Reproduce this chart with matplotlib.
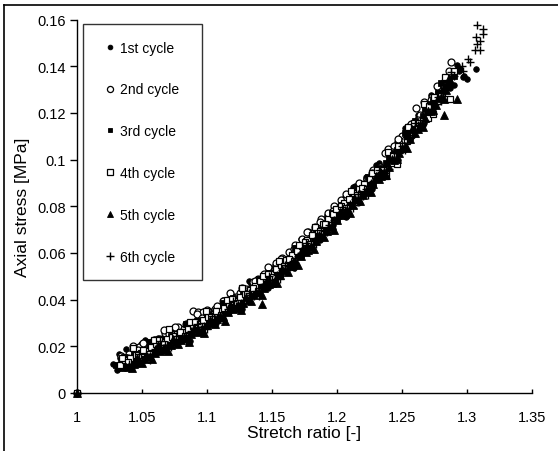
import matplotlib
matplotlib.use("Agg")
import matplotlib.pyplot as plt
from matplotlib.lines import Line2D

plt.rcParams['font.family'] = ['Liberation Sans', 'DejaVu Sans']

# ---------------- data: (stretch ratio, axial stress MPa) ----------------
cycle1 = [
    (1.0, 0.0), (1.028, 0.0125), (1.031, 0.0098), (1.033, 0.0150), (1.036, 0.0128), (1.038, 0.0190),
    (1.041, 0.0140), (1.044, 0.0175), (1.047, 0.0150), (1.049, 0.0212), (1.052, 0.0168), (1.056, 0.0205),
    (1.059, 0.0185), (1.062, 0.0222), (1.066, 0.0205), (1.069, 0.0245), (1.073, 0.0228), (1.077, 0.0262),
    (1.081, 0.0250), (1.085, 0.0285), (1.089, 0.0270), (1.093, 0.0318), (1.097, 0.0300), (1.101, 0.0345),
    (1.105, 0.0322), (1.109, 0.0372), (1.113, 0.0355), (1.118, 0.0400), (1.122, 0.0378), (1.126, 0.0430),
    (1.130, 0.0410), (1.134, 0.0468), (1.138, 0.0445), (1.142, 0.0490), (1.146, 0.0470), (1.150, 0.0530),
    (1.154, 0.0505), (1.158, 0.0575), (1.162, 0.0548), (1.166, 0.0610), (1.170, 0.0585), (1.174, 0.0655),
    (1.178, 0.0628), (1.182, 0.0700), (1.186, 0.0665), (1.190, 0.0745), (1.194, 0.0715), (1.198, 0.0795),
    (1.202, 0.0760), (1.206, 0.0840), (1.210, 0.0800), (1.214, 0.0885), (1.218, 0.0850), (1.222, 0.0925),
    (1.226, 0.0885), (1.230, 0.0975), (1.234, 0.0935), (1.238, 0.1030), (1.242, 0.0985), (1.246, 0.1075),
    (1.250, 0.1040), (1.254, 0.1125), (1.258, 0.1100), (1.262, 0.1180), (1.266, 0.1150), (1.270, 0.1230),
    (1.274, 0.1215), (1.278, 0.1290), (1.282, 0.1265), (1.286, 0.1345), (1.290, 0.1320), (1.294, 0.1380),
    (1.298, 0.1360), (1.307, 0.1390),
    (1.032, 0.0165), (1.037, 0.0107), (1.042, 0.0170), (1.047, 0.0123), (1.052, 0.0226), (1.057, 0.0181),
    (1.062, 0.0236), (1.067, 0.0181), (1.072, 0.0275), (1.077, 0.0218), (1.082, 0.0280), (1.087, 0.0223),
    (1.092, 0.0337), (1.097, 0.0295), (1.102, 0.0352), (1.107, 0.0300), (1.112, 0.0397), (1.117, 0.0345),
    (1.122, 0.0412), (1.127, 0.0360), (1.132, 0.0478), (1.137, 0.0438), (1.142, 0.0498), (1.147, 0.0448),
    (1.152, 0.0550), (1.157, 0.0505), (1.162, 0.0580), (1.167, 0.0535), (1.172, 0.0661), (1.177, 0.0629),
    (1.182, 0.0696), (1.187, 0.0654), (1.192, 0.0761), (1.197, 0.0719), (1.202, 0.0796), (1.207, 0.0754),
    (1.212, 0.0881), (1.217, 0.0849), (1.222, 0.0916), (1.227, 0.0874), (1.232, 0.0984), (1.237, 0.0949),
    (1.242, 0.1034), (1.247, 0.0999), (1.252, 0.1135), (1.257, 0.1113), (1.262, 0.1190), (1.267, 0.1158),
    (1.272, 0.1276), (1.277, 0.1246), (1.282, 0.1336), (1.287, 0.1306), (1.292, 0.1406), (1.297, 0.1355),
    (1.300, 0.1345),
]

cycle2 = [
    (1.0, 0.0), (1.032, 0.0112), (1.036, 0.0150), (1.040, 0.0165), (1.044, 0.0160), (1.048, 0.0195),
    (1.052, 0.0188), (1.056, 0.0212), (1.060, 0.0225), (1.064, 0.0230), (1.068, 0.0258), (1.072, 0.0252),
    (1.078, 0.0283), (1.082, 0.0275), (1.086, 0.0300), (1.089, 0.0350), (1.093, 0.0345), (1.097, 0.0347),
    (1.102, 0.0340), (1.106, 0.0360), (1.112, 0.0394), (1.116, 0.0398), (1.120, 0.0410), (1.125, 0.0430),
    (1.130, 0.0445), (1.135, 0.0476), (1.139, 0.0490), (1.144, 0.0510), (1.148, 0.0525), (1.153, 0.0555),
    (1.158, 0.0580), (1.163, 0.0605), (1.168, 0.0632), (1.173, 0.0660), (1.178, 0.0690), (1.183, 0.0712),
    (1.188, 0.0745), (1.193, 0.0770), (1.198, 0.0800), (1.203, 0.0825), (1.208, 0.0835), (1.212, 0.0850),
    (1.216, 0.0820), (1.219, 0.0880), (1.223, 0.0917), (1.228, 0.0955), (1.233, 0.0970), (1.239, 0.1045),
    (1.244, 0.1060), (1.250, 0.1100), (1.255, 0.1140), (1.261, 0.1220), (1.264, 0.1190), (1.268, 0.1240),
    (1.273, 0.1270), (1.278, 0.1310), (1.283, 0.1310), (1.288, 0.1420),
    (1.034, 0.0160), (1.039, 0.0152), (1.043, 0.0203), (1.047, 0.0183), (1.051, 0.0213), (1.055, 0.0185),
    (1.059, 0.0227), (1.063, 0.0219), (1.067, 0.0271), (1.071, 0.0253), (1.075, 0.0283), (1.080, 0.0255),
    (1.084, 0.0295), (1.088, 0.0285), (1.092, 0.0337), (1.096, 0.0321), (1.100, 0.0355), (1.104, 0.0329),
    (1.108, 0.0373), (1.113, 0.0371), (1.118, 0.0428), (1.122, 0.0412), (1.127, 0.0450), (1.132, 0.0428),
    (1.137, 0.0478), (1.142, 0.0478), (1.147, 0.0538), (1.152, 0.0530), (1.157, 0.0575), (1.162, 0.0560),
    (1.167, 0.0615), (1.172, 0.0621), (1.177, 0.0689), (1.182, 0.0686), (1.187, 0.0734), (1.192, 0.0721),
    (1.197, 0.0779), (1.202, 0.0786), (1.207, 0.0854), (1.212, 0.0851), (1.217, 0.0899), (1.222, 0.0886),
    (1.227, 0.0944), (1.232, 0.0954), (1.237, 0.1029), (1.242, 0.1034), (1.247, 0.1089), (1.252, 0.1085),
    (1.257, 0.1153), (1.262, 0.1170), (1.267, 0.1248), (1.272, 0.1256), (1.277, 0.1316), (1.282, 0.1316),
    (1.286, 0.1378),
]

cycle3 = [
    (1.0, 0.0), (1.030, 0.0118), (1.034, 0.0125), (1.038, 0.0135), (1.042, 0.0142), (1.046, 0.0150),
    (1.050, 0.0162), (1.054, 0.0175), (1.058, 0.0190), (1.062, 0.0200), (1.066, 0.0212), (1.070, 0.0222),
    (1.074, 0.0235), (1.078, 0.0245), (1.082, 0.0258), (1.086, 0.0265), (1.090, 0.0275), (1.094, 0.0290),
    (1.098, 0.0305), (1.102, 0.0318), (1.106, 0.0330), (1.110, 0.0342), (1.114, 0.0360), (1.118, 0.0372),
    (1.122, 0.0390), (1.126, 0.0402), (1.130, 0.0415), (1.134, 0.0435), (1.138, 0.0450), (1.142, 0.0465),
    (1.146, 0.0482), (1.150, 0.0495), (1.154, 0.0520), (1.158, 0.0538), (1.162, 0.0558), (1.166, 0.0580),
    (1.170, 0.0595), (1.174, 0.0620), (1.178, 0.0640), (1.182, 0.0665), (1.186, 0.0685), (1.190, 0.0700),
    (1.194, 0.0728), (1.198, 0.0750), (1.202, 0.0772), (1.206, 0.0795), (1.210, 0.0810), (1.214, 0.0838),
    (1.218, 0.0860), (1.222, 0.0880), (1.226, 0.0905), (1.230, 0.0920), (1.234, 0.0955), (1.238, 0.0985),
    (1.242, 0.1010), (1.246, 0.1040), (1.250, 0.1060), (1.254, 0.1095), (1.258, 0.1130), (1.262, 0.1155),
    (1.266, 0.1185), (1.270, 0.1210), (1.274, 0.1250), (1.278, 0.1285), (1.282, 0.1300), (1.286, 0.1320),
    (1.290, 0.1360), (1.294, 0.1390),
    (1.032, 0.0105), (1.036, 0.0155), (1.040, 0.0115), (1.044, 0.0165), (1.048, 0.0165), (1.052, 0.0166),
    (1.056, 0.0218), (1.060, 0.0180), (1.064, 0.0232), (1.068, 0.0194), (1.072, 0.0245), (1.076, 0.0245),
    (1.080, 0.0245), (1.084, 0.0295), (1.088, 0.0255), (1.092, 0.0307), (1.096, 0.0271), (1.100, 0.0325),
    (1.104, 0.0329), (1.108, 0.0333), (1.112, 0.0387), (1.116, 0.0351), (1.120, 0.0405), (1.124, 0.0369),
    (1.128, 0.0423), (1.132, 0.0428), (1.136, 0.0434), (1.140, 0.0490), (1.144, 0.0456), (1.148, 0.0512),
    (1.152, 0.0480), (1.156, 0.0540), (1.160, 0.0550), (1.164, 0.0560), (1.168, 0.0620), (1.172, 0.0591),
    (1.176, 0.0653), (1.180, 0.0625), (1.184, 0.0687), (1.188, 0.0699), (1.192, 0.0711), (1.196, 0.0773),
    (1.200, 0.0745), (1.204, 0.0807), (1.208, 0.0779), (1.212, 0.0841), (1.216, 0.0853), (1.220, 0.0865),
    (1.224, 0.0927), (1.228, 0.0899), (1.232, 0.0964), (1.236, 0.0942), (1.240, 0.1010), (1.244, 0.1028),
    (1.248, 0.1046), (1.252, 0.1115), (1.256, 0.1095), (1.260, 0.1165), (1.264, 0.1145), (1.268, 0.1215),
    (1.272, 0.1236), (1.276, 0.1258), (1.280, 0.1330), (1.284, 0.1312),
]

cycle4 = [
    (1.0, 0.0), (1.033, 0.0122), (1.037, 0.0140), (1.041, 0.0148), (1.045, 0.0162), (1.049, 0.0172),
    (1.053, 0.0180), (1.057, 0.0195), (1.061, 0.0208), (1.065, 0.0220), (1.069, 0.0232), (1.073, 0.0240),
    (1.077, 0.0252), (1.081, 0.0262), (1.085, 0.0275), (1.089, 0.0285), (1.093, 0.0295), (1.097, 0.0312),
    (1.101, 0.0325), (1.105, 0.0338), (1.109, 0.0352), (1.113, 0.0365), (1.117, 0.0380), (1.121, 0.0395),
    (1.125, 0.0410), (1.129, 0.0425), (1.133, 0.0440), (1.137, 0.0458), (1.141, 0.0478), (1.145, 0.0492),
    (1.149, 0.0510), (1.153, 0.0530), (1.157, 0.0548), (1.161, 0.0570), (1.165, 0.0590), (1.169, 0.0610),
    (1.173, 0.0630), (1.177, 0.0655), (1.181, 0.0678), (1.185, 0.0700), (1.189, 0.0722), (1.193, 0.0745),
    (1.197, 0.0768), (1.201, 0.0790), (1.205, 0.0812), (1.209, 0.0830), (1.213, 0.0855), (1.217, 0.0875),
    (1.221, 0.0895), (1.225, 0.0915), (1.229, 0.0935), (1.233, 0.0950), (1.238, 0.0930), (1.242, 0.0985),
    (1.246, 0.0980), (1.250, 0.1045), (1.254, 0.1080), (1.258, 0.1110), (1.262, 0.1140), (1.266, 0.1170),
    (1.270, 0.1180), (1.274, 0.1195), (1.278, 0.1250), (1.281, 0.1274), (1.284, 0.1260), (1.287, 0.1260),
    (1.290, 0.1380),
    (1.035, 0.0152), (1.039, 0.0132), (1.043, 0.0193), (1.047, 0.0163), (1.051, 0.0183), (1.055, 0.0165),
    (1.059, 0.0227), (1.063, 0.0229), (1.067, 0.0211), (1.071, 0.0273), (1.075, 0.0243), (1.079, 0.0263),
    (1.083, 0.0243), (1.087, 0.0303), (1.091, 0.0304), (1.095, 0.0288), (1.099, 0.0352), (1.103, 0.0326),
    (1.107, 0.0350), (1.111, 0.0334), (1.115, 0.0398), (1.119, 0.0402), (1.123, 0.0386), (1.127, 0.0450),
    (1.131, 0.0424), (1.135, 0.0450), (1.139, 0.0436), (1.143, 0.0502), (1.147, 0.0508), (1.151, 0.0495),
    (1.155, 0.0565), (1.159, 0.0545), (1.163, 0.0575), (1.167, 0.0565), (1.171, 0.0635), (1.175, 0.0648),
    (1.179, 0.0640), (1.183, 0.0712), (1.187, 0.0694), (1.191, 0.0726), (1.195, 0.0718), (1.199, 0.0790),
    (1.203, 0.0802), (1.207, 0.0794), (1.211, 0.0866), (1.215, 0.0848), (1.219, 0.0880), (1.223, 0.0872),
    (1.227, 0.0944), (1.231, 0.0957), (1.235, 0.0955), (1.239, 0.1033), (1.243, 0.1021), (1.247, 0.1059),
    (1.251, 0.1058), (1.255, 0.1138), (1.259, 0.1158), (1.263, 0.1158), (1.267, 0.1238), (1.271, 0.1228),
    (1.275, 0.1270), (1.279, 0.1272), (1.283, 0.1354),
]

cycle5 = [
    (1.0, 0.0), (1.040, 0.0115), (1.044, 0.0125), (1.048, 0.0135), (1.052, 0.0145), (1.056, 0.0158),
    (1.060, 0.0170), (1.064, 0.0182), (1.068, 0.0195), (1.072, 0.0205), (1.076, 0.0218), (1.080, 0.0228),
    (1.084, 0.0240), (1.088, 0.0252), (1.092, 0.0262), (1.096, 0.0275), (1.100, 0.0290), (1.104, 0.0302),
    (1.108, 0.0318), (1.112, 0.0330), (1.116, 0.0345), (1.120, 0.0360), (1.124, 0.0375), (1.128, 0.0385),
    (1.132, 0.0400), (1.136, 0.0418), (1.140, 0.0435), (1.142, 0.0380), (1.144, 0.0450), (1.148, 0.0468),
    (1.152, 0.0485), (1.156, 0.0505), (1.160, 0.0525), (1.164, 0.0545), (1.168, 0.0565), (1.172, 0.0585),
    (1.176, 0.0605), (1.180, 0.0628), (1.184, 0.0650), (1.188, 0.0672), (1.192, 0.0695), (1.196, 0.0718),
    (1.200, 0.0740), (1.204, 0.0762), (1.208, 0.0785), (1.212, 0.0805), (1.216, 0.0830), (1.220, 0.0850),
    (1.224, 0.0872), (1.228, 0.0895), (1.232, 0.0918), (1.236, 0.0945), (1.240, 0.0970), (1.244, 0.1000),
    (1.248, 0.1030), (1.252, 0.1060), (1.256, 0.1090), (1.260, 0.1115), (1.264, 0.1150), (1.268, 0.1180),
    (1.272, 0.1210), (1.276, 0.1235), (1.280, 0.1270), (1.282, 0.1190), (1.284, 0.1300), (1.288, 0.1330),
    (1.292, 0.1260),
    (1.038, 0.0112), (1.042, 0.0105), (1.046, 0.0150), (1.050, 0.0130), (1.054, 0.0159), (1.058, 0.0144),
    (1.062, 0.0206), (1.066, 0.0188), (1.070, 0.0180), (1.074, 0.0230), (1.078, 0.0210), (1.082, 0.0240),
    (1.086, 0.0220), (1.090, 0.0280), (1.094, 0.0264), (1.098, 0.0258), (1.102, 0.0312), (1.106, 0.0296),
    (1.110, 0.0330), (1.114, 0.0310), (1.118, 0.0378), (1.122, 0.0362), (1.126, 0.0356), (1.130, 0.0410),
    (1.134, 0.0396), (1.138, 0.0432), (1.142, 0.0420), (1.146, 0.0484), (1.150, 0.0470), (1.154, 0.0470),
    (1.158, 0.0530), (1.162, 0.0520), (1.166, 0.0560), (1.170, 0.0550), (1.174, 0.0622), (1.178, 0.0614),
    (1.182, 0.0616), (1.186, 0.0678), (1.190, 0.0670), (1.194, 0.0712), (1.198, 0.0700), (1.202, 0.0776),
    (1.206, 0.0768), (1.210, 0.0770), (1.214, 0.0832), (1.218, 0.0824), (1.222, 0.0866), (1.226, 0.0860),
    (1.230, 0.0930), (1.234, 0.0928), (1.238, 0.0936), (1.242, 0.1004), (1.246, 0.1002), (1.250, 0.1050),
    (1.254, 0.1050), (1.258, 0.1130), (1.262, 0.1130), (1.266, 0.1140), (1.270, 0.1210), (1.274, 0.1212),
    (1.278, 0.1264), (1.282, 0.1260), (1.286, 0.1348),
]

cycle6 = [
    (1.0, 0.0), (1.042, 0.0120), (1.046, 0.0130), (1.050, 0.0142), (1.054, 0.0155), (1.058, 0.0168),
    (1.062, 0.0180), (1.066, 0.0192), (1.070, 0.0205), (1.074, 0.0215), (1.078, 0.0228), (1.082, 0.0238),
    (1.086, 0.0250), (1.090, 0.0262), (1.094, 0.0272), (1.098, 0.0288), (1.102, 0.0300), (1.106, 0.0315),
    (1.110, 0.0328), (1.114, 0.0342), (1.118, 0.0358), (1.122, 0.0372), (1.126, 0.0385), (1.130, 0.0400),
    (1.134, 0.0418), (1.138, 0.0435), (1.142, 0.0452), (1.146, 0.0468), (1.150, 0.0485), (1.154, 0.0505),
    (1.158, 0.0525), (1.162, 0.0545), (1.166, 0.0565), (1.170, 0.0585), (1.174, 0.0605), (1.178, 0.0628),
    (1.182, 0.0650), (1.186, 0.0672), (1.190, 0.0695), (1.194, 0.0718), (1.198, 0.0740), (1.202, 0.0762),
    (1.206, 0.0785), (1.210, 0.0808), (1.214, 0.0830), (1.218, 0.0852), (1.222, 0.0875), (1.226, 0.0898),
    (1.230, 0.0920), (1.234, 0.0945), (1.238, 0.0972), (1.242, 0.1000), (1.246, 0.1028), (1.250, 0.1058),
    (1.254, 0.1088), (1.258, 0.1118), (1.262, 0.1148), (1.266, 0.1178), (1.270, 0.1208), (1.274, 0.1238),
    (1.278, 0.1268), (1.282, 0.1300), (1.286, 0.1330), (1.290, 0.1360), (1.296, 0.1400), (1.297, 0.1380),
    (1.301, 0.1430), (1.302, 0.1420), (1.306, 0.1470), (1.310, 0.1470), (1.308, 0.1495), (1.310, 0.1510),
    (1.307, 0.1525), (1.312, 0.1540), (1.312, 0.1560), (1.308, 0.1577),
    (1.040, 0.0125), (1.044, 0.0115), (1.048, 0.0165), (1.052, 0.0146), (1.056, 0.0140), (1.060, 0.0190),
    (1.064, 0.0222), (1.068, 0.0204), (1.072, 0.0195), (1.076, 0.0245), (1.080, 0.0225), (1.084, 0.0220),
    (1.088, 0.0265), (1.092, 0.0297), (1.096, 0.0281), (1.100, 0.0275), (1.104, 0.0329), (1.108, 0.0313),
    (1.112, 0.0310), (1.116, 0.0361), (1.120, 0.0395), (1.124, 0.0379), (1.128, 0.0373), (1.132, 0.0428),
    (1.136, 0.0414), (1.140, 0.0415), (1.144, 0.0466), (1.148, 0.0502), (1.152, 0.0490), (1.156, 0.0490),
    (1.160, 0.0550), (1.164, 0.0540), (1.168, 0.0540), (1.172, 0.0601), (1.176, 0.0643), (1.180, 0.0635),
    (1.184, 0.0637), (1.188, 0.0699), (1.192, 0.0691), (1.196, 0.0700), (1.200, 0.0755), (1.204, 0.0797),
    (1.208, 0.0789), (1.212, 0.0791), (1.216, 0.0853), (1.220, 0.0845), (1.224, 0.0850), (1.228, 0.0909),
    (1.232, 0.0954), (1.236, 0.0952), (1.240, 0.0960), (1.244, 0.1028), (1.248, 0.1026), (1.252, 0.1040),
    (1.256, 0.1105), (1.260, 0.1155), (1.264, 0.1155), (1.268, 0.1165), (1.272, 0.1236), (1.276, 0.1238),
    (1.280, 0.1250), (1.284, 0.1322), (1.288, 0.1374),
]

series_labels = ["1st cycle", "2nd cycle", "3rd cycle", "4th cycle", "5th cycle", "6th cycle"]
x_ticks = [1.0, 1.05, 1.1, 1.15, 1.2, 1.25, 1.3, 1.35]
x_tick_labels = ["1", "1.05", "1.1", "1.15", "1.2", "1.25", "1.3", "1.35"]
y_ticks = [0.0, 0.02, 0.04, 0.06, 0.08, 0.1, 0.12, 0.14, 0.16]
y_tick_labels = ["0", "0.02", "0.04", "0.06", "0.08", "0.1", "0.12", "0.14", "0.16"]
x_label = "Stretch ratio [-]"
y_label = "Axial stress [MPa]"

# ---------------- figure ----------------
fig = plt.figure(figsize=(5.58, 4.52), dpi=100)
ax = fig.add_axes([77 / 558, (452 - 394) / 452, (532 - 77) / 558, (394 - 20.5) / 452])

styles = [
    dict(marker='o', ms=4.0, mfc='black', mec='black', mew=0.6),
    dict(marker='o', ms=5.0, mfc='white', mec='black', mew=0.9),
    dict(marker='s', ms=3.8, mfc='black', mec='black', mew=0.6),
    dict(marker='s', ms=4.8, mfc='white', mec='black', mew=0.9),
    dict(marker='^', ms=5.2, mfc='black', mec='black', mew=0.6),
    dict(marker='+', ms=6.0, mfc='black', mec='black', mew=1.0),
]
legend_sizes = [3.4, 4.4, 3.4, 4.4, 4.8, 6.0]
data = [cycle1, cycle2, cycle3, cycle4, cycle5, cycle6]
for pts, st, lab in zip(data, styles, series_labels):
    xs = [p[0] for p in pts]
    ys = [p[1] for p in pts]
    ax.plot(xs, ys, ls='none', label=lab, clip_on=False, **st)

ax.set_xlim(1.0, 1.35)
ax.set_ylim(0.0, 0.16)
ax.set_xticks(x_ticks)
ax.set_xticklabels(x_tick_labels)
ax.set_yticks(y_ticks)
ax.set_yticklabels(y_tick_labels)
ax.tick_params(axis='x', direction='in', length=3, width=1, labelsize=10.5, pad=12)
ax.tick_params(axis='y', direction='out', length=5, width=1, labelsize=10.5, pad=3)
for s in ['top', 'right']:
    ax.spines[s].set_visible(False)
for s in ['left', 'bottom']:
    ax.spines[s].set_linewidth(1.0)
ax.set_xlabel(x_label, fontsize=12.5, labelpad=1)
ax.set_ylabel(y_label, fontsize=12.5, labelpad=5)

leg_handles = [Line2D([], [], ls='none', marker=st['marker'], ms=s, mfc=st['mfc'],
                      mec=st['mec'], mew=st['mew']) for st, s in zip(styles, legend_sizes)]
leg = ax.legend(leg_handles, series_labels, loc='upper left',
                bbox_to_anchor=(0.013, 0.30, 0.2615, 0.688), mode='expand',
                frameon=True, fancybox=False, shadow=False, fontsize=10, labelspacing=2.0,
                handlelength=1.5, handletextpad=0.0, borderpad=1.2, borderaxespad=0.0)
leg.get_frame().set_edgecolor('black')
leg.get_frame().set_linewidth(1.0)

# chart-area border (Excel style)
fig.add_artist(Line2D([4 / 558, 1.0], [1 - 6 / 452, 1 - 6 / 452], transform=fig.transFigure,
                      color='black', lw=1.2))
fig.add_artist(Line2D([4 / 558, 4 / 558], [0.0, 1 - 6 / 452], transform=fig.transFigure,
                      color='black', lw=1.2))

fig.savefig("out.png", dpi=100)
